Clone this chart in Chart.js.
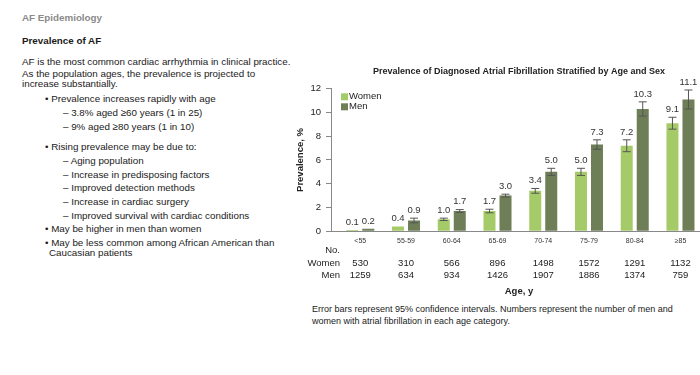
<!DOCTYPE html>
<html lang="en">
<head>
  <meta charset="UTF-8">
  <title>AF Epidemiology - Prevalence of AF</title>
  <script src="https://cdn.jsdelivr.net/npm/chart.js"></script>
  <style>
    html, body { margin: 0; padding: 0; background: #fff; }
    body { width: 700px; height: 375px; overflow: hidden; position: relative;
           font-family: "Liberation Sans", Arial, sans-serif; color: #1a1a1a; }
    .ln { position: absolute; white-space: nowrap; font-size: 9.8px; line-height: 12px; }
    .head { font-weight: bold; color: #8a8a8a; font-size: 9.8px; }
    .sub { font-weight: bold; font-size: 9.8px; }
    .note { position: absolute; left: 312px; top: 303px; font-size: 9px; line-height: 12px; color: #1a1a1a; }
    .chart-box { position: absolute; left: 285px; top: 60px; width: 422px; height: 237px; }
  </style>
</head>
<body>

  <div class="ln head" style="left:22px; top:12px;">AF Epidemiology</div>
  <div class="ln sub" style="left:22px; top:35px;">Prevalence of AF</div>
  <div class="ln" style="left:22px; top:56px;">AF is the most common cardiac arrhythmia in clinical practice.</div>
  <div class="ln" style="left:22px; top:68px;">As the population ages, the prevalence is projected to</div>
  <div class="ln" style="left:22px; top:78px;">increase substantially.</div>

  <div class="ln" style="left:45px; top:93px;">• Prevalence increases rapidly with age</div>
  <div class="ln" style="left:63px; top:107px;">– 3.8% aged ≥60 years (1 in 25)</div>
  <div class="ln" style="left:63px; top:121px;">– 9% aged ≥80 years (1 in 10)</div>

  <div class="ln" style="left:45px; top:141px;">• Rising prevalence may be due to:</div>
  <div class="ln" style="left:63px; top:155px;">– Aging population</div>
  <div class="ln" style="left:63px; top:169px;">– Increase in predisposing factors</div>
  <div class="ln" style="left:63px; top:182px;">– Improved detection methods</div>
  <div class="ln" style="left:63px; top:196px;">– Increase in cardiac surgery</div>
  <div class="ln" style="left:63px; top:210px;">– Improved survival with cardiac conditions</div>
  <div class="ln" style="left:45px; top:223px;">• May be higher in men than women</div>
  <div class="ln" style="left:45px; top:237px;">• May be less common among African American than</div>
  <div class="ln" style="left:49px; top:247px;">Caucasian patients</div>

  <div class="chart-box"><canvas id="afChart"></canvas></div>

  <div class="note">Error bars represent 95% confidence intervals. Numbers represent the number of men and<br>women with atrial fibrillation in each age category.</div>

<script>
  // data
  const ageGroups = ['<55', '55-59', '60-64', '65-69', '70-74', '75-79', '80-84', '≥85'];
  const womenPct = [0.1, 0.4, 1.0, 1.7, 3.4, 5.0, 7.2, 9.1];
  const menPct   = [0.2, 0.9, 1.7, 3.0, 5.0, 7.3, 10.3, 11.1];
  // half width of the 95% CI (approx. from the whiskers)
  const womenErr = [0, 0, 0.1, 0.15, 0.2, 0.3, 0.5, 0.5];
  const menErr   = [0, 0.2, 0.12, 0.12, 0.3, 0.4, 0.6, 0.8];
  const womenN = [530, 310, 566, 896, 1498, 1572, 1291, 1132];
  const menN   = [1259, 634, 934, 1426, 1907, 1886, 1374, 759];
  const yTicks = [0, 2, 4, 6, 8, 10, 12];

  const WOMEN_COLOR = '#a5cb68';
  const MEN_COLOR = '#6e7e57';

  Chart.defaults.font.family = '"Liberation Sans", Arial, sans-serif';
  Chart.defaults.color = '#222';

  // error bars + value labels on top of each bar
  const errorBars = {
    id: 'errorBars',
    afterDatasetsDraw(chart) {
      const ctx = chart.ctx;
      const y = chart.scales.y;
      const sets = [[womenPct, womenErr], [menPct, menErr]];
      ctx.save();
      sets.forEach(([vals, errs], d) => {
        const meta = chart.getDatasetMeta(d);
        meta.data.forEach((bar, i) => {
          const top = y.getPixelForValue(vals[i] + errs[i]);
          if (errs[i] > 0) {
            const bot = y.getPixelForValue(vals[i] - errs[i]);
            ctx.strokeStyle = '#555';
            ctx.lineWidth = 1;
            ctx.beginPath();
            ctx.moveTo(bar.x, top); ctx.lineTo(bar.x, bot);
            ctx.moveTo(bar.x - 4, top); ctx.lineTo(bar.x + 4, top);
            ctx.moveTo(bar.x - 4, bot); ctx.lineTo(bar.x + 4, bot);
            ctx.stroke();
          }
          ctx.fillStyle = '#333';
          ctx.font = '9.5px "Liberation Sans", Arial, sans-serif';
          ctx.textAlign = 'center';
          ctx.textBaseline = 'bottom';
          ctx.fillText(vals[i].toFixed(1), bar.x, top - 3);
        });
      });
      ctx.restore();
    }
  };

  // legend in the top-left corner and the "No." table under the axis
  const extras = {
    id: 'extras',
    afterDraw(chart) {
      const ctx = chart.ctx;
      const area = chart.chartArea;
      const x = chart.scales.x;
      ctx.save();
      ctx.font = '9.5px "Liberation Sans", Arial, sans-serif';
      ctx.textBaseline = 'middle';
      ctx.textAlign = 'left';
      [['Women', WOMEN_COLOR], ['Men', MEN_COLOR]].forEach(([name, col], k) => {
        const ly = area.top + 8 + k * 10;
        ctx.fillStyle = col;
        ctx.fillRect(area.left + 10, ly - 3.5, 7, 7);
        ctx.fillStyle = '#222';
        ctx.fillText(name, area.left + 18, ly);
      });

      ctx.textAlign = 'right';
      ctx.fillText('No.', area.left + 9, area.bottom + 19);
      ctx.fillText('Women', area.left + 9, area.bottom + 32);
      ctx.fillText('Men', area.left + 9, area.bottom + 44);
      ctx.textAlign = 'center';
      ageGroups.forEach((g, i) => {
        const cx = x.getPixelForValue(i);
        ctx.fillText(String(womenN[i]), cx, area.bottom + 32);
        ctx.fillText(String(menN[i]), cx, area.bottom + 44);
      });
      ctx.restore();
    }
  };

  new Chart(document.getElementById('afChart'), {
    type: 'bar',
    data: {
      datasets: [
        {
          label: 'Women',
          data: womenPct.map((v, i) => ({ x: i, y: v })),
          backgroundColor: WOMEN_COLOR
        },
        {
          label: 'Men',
          data: menPct.map((v, i) => ({ x: i, y: v })),
          backgroundColor: MEN_COLOR
        }
      ]
    },
    options: {
      responsive: true,
      maintainAspectRatio: false,
      animation: false,
      categoryPercentage: 0.7,
      barPercentage: 0.75,
      layout: { padding: { top: 0, right: 0, bottom: 0, left: 10 } },
      plugins: {
        legend: { display: false },
        tooltip: { enabled: false },
        title: {
          display: true,
          fullSize: false,
          text: 'Prevalence of Diagnosed Atrial Fibrillation Stratified by Age and Sex',
          font: { size: 9, weight: 'bold' },
          color: '#222',
          padding: { top: 6, bottom: 12 }
        }
      },
      scales: {
        x: {
          type: 'linear',
          offset: false,
          min: -0.64,
          max: 7.58,
          afterBuildTicks: scale => {
            scale.ticks = ageGroups.map((_, i) => ({ value: i }));
          },
          grid: { display: false, drawTicks: false },
          border: { display: true, color: '#888' },
          ticks: {
            autoSkip: false,
            maxRotation: 0,
            font: { size: 7 },
            color: '#333',
            padding: 6,
            callback: v => ageGroups[v]
          },
          title: {
            display: true,
            text: 'Age, y',
            font: { size: 9.5, weight: 'bold' },
            color: '#222',
            padding: { top: 34, bottom: 0 }
          }
        },
        y: {
          min: 0,
          max: 12,
          afterFit: scale => { scale.width = 36; },
          grid: { drawOnChartArea: false, drawTicks: true, tickLength: 5, color: '#888' },
          border: { display: true, color: '#888' },
          ticks: {
            stepSize: 1,
            font: { size: 9.5 },
            color: '#222',
            padding: 5,
            callback: v => yTicks.includes(v) ? String(v) : ''
          },
          title: {
            display: true,
            text: 'Prevalence, %',
            font: { size: 9.5, weight: 'bold' },
            color: '#222',
            padding: { top: 0, bottom: 4 }
          }
        }
      }
    },
    plugins: [errorBars, extras]
  });
</script>
</body>
</html>
